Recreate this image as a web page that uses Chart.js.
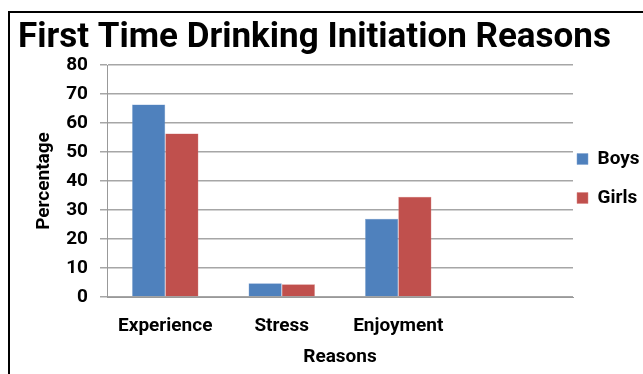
<!DOCTYPE html>
<html><head><meta charset="utf-8">
<script src="https://cdn.jsdelivr.net/npm/chart.js@4/dist/chart.umd.min.js"></script>
<style>html,body{margin:0;padding:0;background:#fff}#w{width:643px;height:374px;position:relative}</style>
</head><body><div id="w"><canvas id="c" width="643" height="374"></canvas></div>
<script>
const categories = ["Experience", "Stress", "Enjoyment", ""];
const boys = [66.4, 4.7, 27.0, null];
const girls = [56.4, 4.4, 34.6, null];
const seriesNames = ["Boys", "Girls"];
const titleText = "First Time Drinking Initiation Reasons";
const xTitle = "Reasons";
const yTitle = "Percentage";

const FONT = "Roboto, 'Open Sans', sans-serif";
const F = (s) => ({ family: FONT, size: s, weight: 'bold' });
const frame = {
  id: 'frame',
  beforeDraw(chart) {
    const ctx = chart.ctx;
    ctx.save();
    ctx.fillStyle = '#fff';
    ctx.fillRect(0, 0, chart.width, chart.height);
    ctx.strokeStyle = '#000';
    ctx.lineWidth = 2;
    ctx.beginPath();
    ctx.moveTo(9, 380);
    ctx.lineTo(9, 12);
    ctx.lineTo(650, 12);
    ctx.stroke();
    ctx.restore();
  }
};
const nudge = {
  id: 'nudge',
  afterLayout(chart) {
    const lg = chart.legend;
    if (lg) {
      lg.left -= 16; lg.right = chart.width; lg.width = lg.right - lg.left;
      lg.top -= 10; lg.bottom -= 10;
    }
  }
};

new Chart(document.getElementById('c'), {
  type: 'bar',
  data: {
    labels: categories,
    datasets: [
      { label: seriesNames[0], data: boys, backgroundColor: '#4f81bd', borderColor: '#7fa3d1', borderWidth: 0.5 },
      { label: seriesNames[1], data: girls, backgroundColor: '#c0504d', borderColor: '#d88583', borderWidth: 0.5 }
    ]
  },
  options: {
    responsive: false,
    animation: false,
    devicePixelRatio: 1,
    datasets: { bar: { categoryPercentage: 0.57, barPercentage: 1.0 } },
    layout: { padding: { left: 18, right: 13, top: 10, bottom: 7 } },
    plugins: {
      title: {
        display: true, text: titleText, color: '#000', align: 'start',
        font: F(35),
        padding: { top: 7, bottom: 6 }
      },
      legend: {
        position: 'right', maxWidth: 57,
        labels: { color: '#000', boxWidth: 11, boxHeight: 11, padding: 20, font: F(19) }
      },
      tooltip: { enabled: false }
    },
    scales: {
      x: {
        afterFit(axis) { axis.height = 70; },
        grid: { display: false, drawTicks: false },
        border: { display: true, color: '#999', width: 1 },
        ticks: { color: '#000', font: F(19), padding: 18, maxRotation: 0 },
        title: { display: true, text: xTitle, color: '#000', font: F(19), padding: { top: 10, bottom: -2 } }
      },
      y: {
        min: 0, max: 80,
        afterFit(axis) { axis.width = 89; },
        ticks: { stepSize: 10, color: '#000', font: F(19), padding: 12 },
        grid: { color: '#a6a6a6', lineWidth: 1.5, tickLength: 7 },
        border: { display: true, color: '#999', width: 1 },
        title: { display: true, text: yTitle, color: '#000', font: F(19), padding: { top: 15, bottom: 0 } }
      }
    }
  },
  plugins: [frame, nudge]
});
</script></body></html>
